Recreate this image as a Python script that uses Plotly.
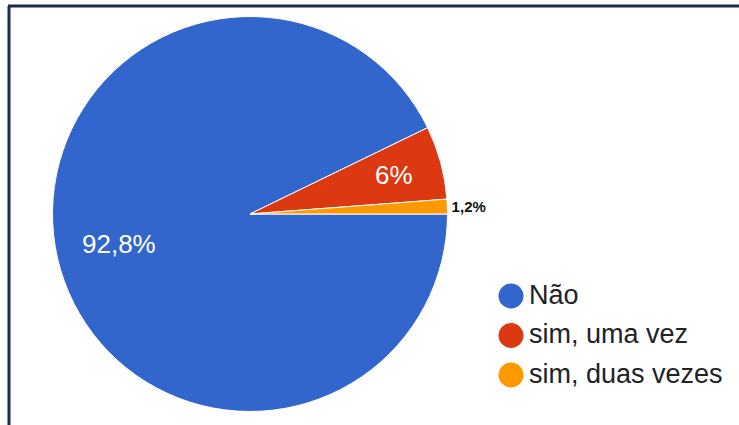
import math
import plotly.graph_objects as go

categories = ["Não", "sim, uma vez", "sim, duas vezes"]
values = [92.8, 6.0, 1.2]
value_labels = ["92,8%", "6%", "1,2%"]
colors = ["#3366cc", "#dc3912", "#ff9900"]

W, H = 739, 425
cx, cy, r = 250, 214, 197.5
rotation = 90  # degrees clockwise from 12 o'clock where the first slice starts
label_pos = ["inside", "inside", "outside"]
inside_radius_frac = [0.68, 0.755, 0]

fig = go.Figure()

fig.add_trace(go.Pie(
    labels=categories,
    values=values,
    text=value_labels,
    textinfo="text",
    sort=False,
    direction="clockwise",
    rotation=rotation,
    marker=dict(colors=colors, line=dict(color="white", width=1)),
    textposition=["none" if p == "inside" else "outside" for p in label_pos],
    outsidetextfont=dict(family="Liberation Sans, Arial", size=15, color="#111111", weight="bold"),
    domain=dict(x=[(cx - r) / W, (cx + r) / W], y=[(H - cy - r) / H, (H - cy + r) / H]),
    showlegend=False,
    hoverinfo="label+percent",
))

# inside labels, positioned along each slice's mid-angle
total = sum(values)
start = 90 - rotation  # math angle (deg, counter-clockwise from 3 o'clock)
annotations = []
cum = 0.0
for val, lab, pos, frac in zip(values, value_labels, label_pos, inside_radius_frac):
    mid = start - (cum + val / 2) / total * 360
    cum += val
    if pos != "inside":
        continue
    px = cx + frac * r * math.cos(math.radians(mid))
    py = cy - frac * r * math.sin(math.radians(mid))
    annotations.append(dict(
        x=px / W, y=(H - py) / H, xref="paper", yref="paper", text=lab, showarrow=False,
        xanchor="center", yanchor="middle",
        font=dict(family="Liberation Sans, Arial", size=26, color="white"),
    ))

# custom legend with round markers
lx, ly0, lstep = 511, 296, 39.5
leg_y = [ly0 + lstep * i for i in range(len(categories))]
fig.add_trace(go.Scatter(
    x=[lx] * len(categories), y=leg_y, mode="markers",
    marker=dict(size=25, color=colors, line=dict(width=0)),
    showlegend=False, hoverinfo="skip",
))
fig.add_trace(go.Scatter(
    x=[lx + 18] * len(categories), y=[y + 1 for y in leg_y], mode="text",
    text=categories, textposition="middle right",
    textfont=dict(family="Liberation Sans, Arial", size=27, color="#222222"),
    showlegend=False, hoverinfo="skip",
))

fig.update_layout(
    width=W, height=H,
    margin=dict(l=0, r=0, t=0, b=0),
    paper_bgcolor="white", plot_bgcolor="rgba(0,0,0,0)",
    xaxis=dict(range=[0, W], visible=False, fixedrange=True),
    yaxis=dict(range=[H, 0], visible=False, fixedrange=True),
    annotations=annotations,
    shapes=[
        dict(type="line", xref="paper", yref="paper", x0=8 / W, x1=1, y0=(H - 6) / H, y1=(H - 6) / H,
             line=dict(color="#1f2b4a", width=3)),
        dict(type="line", xref="paper", yref="paper", x0=9 / W, x1=9 / W, y0=0, y1=(H - 6) / H,
             line=dict(color="#1f2b4a", width=3)),
    ],
)

fig.write_html("out.html", config={"displayModeBar": False},
               post_script="document.body.style.margin='0';")
